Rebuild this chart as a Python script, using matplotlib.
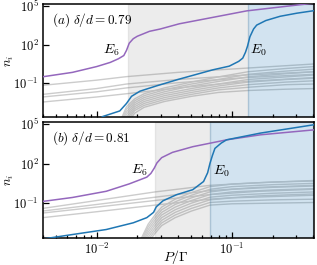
import numpy as np
import matplotlib
matplotlib.use("Agg")
import matplotlib.pyplot as plt
from matplotlib.ticker import NullLocator, NullFormatter, LogLocator, FixedLocator, FixedFormatter

plt.rcParams['font.family'] = ['DejaVu Serif']
plt.rcParams['mathtext.fontset'] = 'cm'

# ---------------- data (log10 values) ----------------
# panel (a): delta/d = 0.79
span_a_gray = (0.0169, 0.131)
span_a_blue = (0.131, 0.4)

logP_e6_a = [-2.40, -2.18, -2.00, -1.90, -1.84, -1.80, -1.78, -1.76, -1.73, -1.70, -1.61, -1.53, -1.39, -1.29, -1.04, -0.89, -0.60, -0.39]
logn_e6_a = [-0.49, -0.15, 0.30, 0.62, 0.90, 1.15, 1.55, 2.10, 2.45, 2.64, 3.02, 3.20, 3.60, 3.80, 4.30, 4.60, 4.95, 5.20]

logP_e0_a = [-2.40, -2.00, -1.956, -1.83, -1.78, -1.743, -1.68, -1.56, -1.40, -1.14, -1.02, -0.95, -0.92, -0.90, -0.885, -0.867, -0.84, -0.817, -0.75, -0.644, -0.52, -0.39]
logn_e0_a = [-6.00, -3.90, -3.56, -3.13, -2.55, -2.00, -1.60, -1.20, -0.70, 0.05, 0.33, 0.70, 0.95, 1.40, 1.87, 2.60, 3.20, 3.50, 3.85, 4.18, 4.42, 4.62]

logP_up_a = [-2.40, -2.00, -1.78, -1.40, -0.89, -0.39]
logn_up_a = [
    [-1.15, -0.75, -0.48, -0.15, 0.18, 0.50],
    [-1.85, -1.40, -1.05, -0.70, -0.35, -0.10],
    [-2.05, -1.65, -1.35, -0.95, -0.55, -0.30],
    [-2.44, -2.05, -1.80, -1.35, -0.85, -0.55],
]

logP_bundle_a = [-1.85, -1.78, -1.72, -1.65, -1.50, -1.30, -1.10, -0.88, -0.60, -0.39]
logn_bundle_a = [
    [-4.5, -2.8, -2.20, -1.80, -1.35, -0.90, -0.50, -0.10, 0.15, 0.30],
    [-4.6, -3.0, -2.35, -1.95, -1.50, -1.05, -0.70, -0.30, -0.05, 0.10],
    [-4.7, -3.2, -2.50, -2.10, -1.65, -1.20, -0.85, -0.50, -0.25, -0.10],
    [-4.8, -3.4, -2.65, -2.25, -1.80, -1.40, -1.05, -0.70, -0.50, -0.35],
    [-4.9, -3.6, -2.80, -2.40, -1.95, -1.55, -1.20, -0.90, -0.70, -0.60],
    [-5.0, -3.8, -2.95, -2.55, -2.10, -1.70, -1.35, -1.10, -0.90, -0.80],
    [-5.1, -4.0, -3.10, -2.70, -2.25, -1.85, -1.50, -1.30, -1.10, -1.05],
    [-5.2, -4.2, -3.30, -2.85, -2.40, -2.00, -1.70, -1.55, -1.45, -1.40],
]

# panel (b): delta/d = 0.81
span_b_gray = (0.0269, 0.0687)
span_b_blue = (0.0687, 0.4)

logP_e6_b = [-2.40, -2.18, -1.93, -1.76, -1.63, -1.60, -1.575, -1.555, -1.52, -1.44, -1.29, -1.04, -0.79, -0.39]
logn_e6_b = [-0.87, -0.57, -0.10, 0.46, 0.97, 1.25, 1.65, 2.05, 2.45, 2.85, 3.28, 3.80, 4.18, 4.56]

logP_e0_b = [-2.40, -2.18, -1.93, -1.73, -1.63, -1.58, -1.56, -1.51, -1.41, -1.29, -1.21, -1.18, -1.163, -1.145, -1.126, -1.08, -1.04, -0.79, -0.39]
logn_e0_b = [-3.72, -3.38, -3.00, -2.49, -2.10, -1.70, -1.28, -0.82, -0.36, 0.02, 0.64, 1.30, 2.00, 2.60, 3.15, 3.55, 3.80, 4.31, 4.95]

logP_up_b = [-2.40, -2.00, -1.57, -1.163, -0.80, -0.39]
logn_up_b = [
    [-1.40, -0.80, -0.15, 0.35, 0.55, 0.72],
    [-1.60, -1.10, -0.55, -0.05, 0.20, 0.35],
    [-1.75, -1.30, -0.80, -0.35, -0.10, 0.05],
    [-2.10, -1.65, -1.15, -0.70, -0.45, -0.30],
]

logP_bundle_b = [-1.70, -1.62, -1.57, -1.52, -1.42, -1.30, -1.163, -1.00, -0.70, -0.39]
logn_bundle_b = [
    [-4.3, -2.6, -1.9, -1.3, -0.7, -0.2, 0.25, 0.45, 0.60, 0.68],
    [-4.4, -2.8, -2.1, -1.5, -0.9, -0.4, 0.05, 0.25, 0.40, 0.50],
    [-4.5, -3.0, -2.3, -1.7, -1.1, -0.6, -0.15, 0.05, 0.20, 0.30],
    [-4.6, -3.2, -2.5, -1.9, -1.3, -0.8, -0.35, -0.15, 0.00, 0.10],
    [-4.7, -3.4, -2.7, -2.1, -1.5, -1.0, -0.55, -0.40, -0.25, -0.15],
    [-4.8, -3.6, -2.9, -2.3, -1.7, -1.2, -0.75, -0.60, -0.50, -0.40],
    [-4.9, -3.8, -3.1, -2.5, -1.9, -1.4, -0.95, -0.85, -0.75, -0.70],
    [-5.0, -4.0, -3.3, -2.7, -2.1, -1.6, -1.15, -1.05, -1.00, -0.95],
]

panel_labels = [r'$(a)\ \delta/d = 0.79$', r'$(b)\ \delta/d = 0.81$']
e6_label_pos = [(0.0129, 33.0), (0.0205, 30.0)]
e0_label_pos = [(0.158, 33.0), (0.083, 26.0)]
xlim = (10 ** -2.40, 10 ** -0.393)
ylim = (10 ** -3.62, 10 ** 5.13)
yticks = [1e-1, 1e2, 1e5]
ytick_labels = [r'$10^{-1}$', r'$10^{2}$', r'$10^{5}$']
xticks = [1e-2, 1e-1]
xtick_labels = [r'$10^{-2}$', r'$10^{-1}$']

C_PURPLE = '#9467bd'
C_BLUE = '#1f77b4'
C_GRAYLINE = '#cccccc'

# ---------------- figure ----------------
fig = plt.figure(figsize=(3.17, 2.65), dpi=100)
W, H = 317.0, 265.0
ax_a = fig.add_axes([42.7 / W, 1 - 117.3 / H, (314 - 42.7) / W, (117.3 - 4) / H])
ax_b = fig.add_axes([42.7 / W, 1 - 237.7 / H, (314 - 42.7) / W, (237.7 - 122.3) / H])

panels = [
    (ax_a, span_a_gray, span_a_blue, logP_e6_a, logn_e6_a, logP_e0_a, logn_e0_a,
     logP_up_a, logn_up_a, logP_bundle_a, logn_bundle_a),
    (ax_b, span_b_gray, span_b_blue, logP_e6_b, logn_e6_b, logP_e0_b, logn_e0_b,
     logP_up_b, logn_up_b, logP_bundle_b, logn_bundle_b),
]

for i, (ax, sg, sb, pe6, ne6, pe0, ne0, pup, nup, pbu, nbu) in enumerate(panels):
    ax.set_xscale('log')
    ax.set_yscale('log')
    for row in nup:
        ax.plot(10 ** np.array(pup), 10 ** np.array(row), color=C_GRAYLINE, lw=1.0, zorder=1)
    for row in nbu:
        ax.plot(10 ** np.array(pbu), 10 ** np.array(row), color=C_GRAYLINE, lw=1.0, zorder=1)
    ax.axvspan(sg[0], sg[1], color='gray', alpha=0.15, zorder=1.5)
    ax.axvspan(sb[0], sb[1], color=C_BLUE, alpha=0.2, zorder=1.5)
    ax.plot(10 ** np.array(pe6), 10 ** np.array(ne6), color=C_PURPLE, lw=1.1, zorder=3)
    ax.plot(10 ** np.array(pe0), 10 ** np.array(ne0), color=C_BLUE, lw=1.1, zorder=3)

    ax.text(*e6_label_pos[i], r'$E_6$', ha='center', va='center', fontsize=10)
    ax.text(*e0_label_pos[i], r'$E_0$', ha='center', va='center', fontsize=10)
    ax.text(0.033, 0.94, panel_labels[i], transform=ax.transAxes, ha='left', va='top', fontsize=9.5)

    ax.set_xlim(*xlim)
    ax.set_ylim(*ylim)
    ax.yaxis.set_major_locator(FixedLocator(yticks))
    ax.yaxis.set_major_formatter(FixedFormatter(ytick_labels))
    ax.yaxis.set_minor_locator(NullLocator())
    ax.xaxis.set_major_locator(FixedLocator(xticks))
    ax.xaxis.set_minor_locator(LogLocator(base=10, subs=np.arange(2, 10)))
    ax.xaxis.set_minor_formatter(NullFormatter())
    if i == 0:
        ax.xaxis.set_major_formatter(NullFormatter())
    else:
        ax.xaxis.set_major_formatter(FixedFormatter(xtick_labels))
        ax.set_xlabel(r'$P/\Gamma$', fontsize=10)
        ax.xaxis.set_label_coords((176 - 42.7) / 271.3, -0.09)
    ax.set_ylabel(r'$n_i$', fontsize=9)
    ax.yaxis.set_label_coords(-0.1, 0.5)
    ax.tick_params(which='both', direction='in', labelsize=9, width=0.9)
    ax.tick_params(which='major', length=4, pad=3)
    ax.tick_params(which='minor', length=2.2)
    for s in ax.spines.values():
        s.set_linewidth(1.1)

fig.savefig('out.png', dpi=100)
